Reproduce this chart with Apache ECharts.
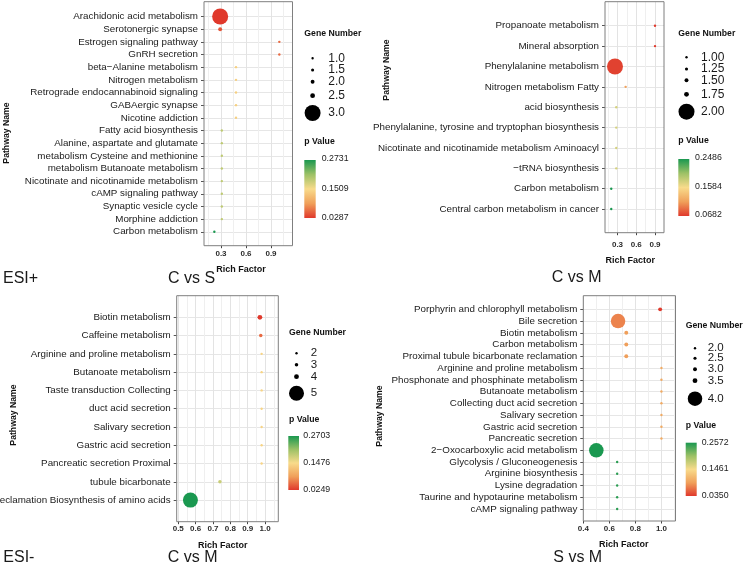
<!DOCTYPE html>
<html><head><meta charset="utf-8">
<script src="https://cdn.jsdelivr.net/npm/echarts@6/dist/echarts.min.js"></script>
<style>html,body{margin:0;padding:0;background:#fff}#c{width:750px;height:569px}</style>
</head><body><div id="c"></div><script>
// ---------- DATA ----------
// Panel A : ESI+  C vs S
const aPathways = ['Arachidonic acid metabolism','Serotonergic synapse','Estrogen signaling pathway','GnRH secretion','beta\u2212Alanine metabolism','Nitrogen metabolism','Retrograde endocannabinoid signaling','GABAergic synapse','Nicotine addiction','Fatty acid biosynthesis','Alanine, aspartate and glutamate','metabolism Cysteine and methionine','metabolism Butanoate metabolism','Nicotinate and nicotinamide metabolism','cAMP signaling pathway','Synaptic vesicle cycle','Morphine addiction','Carbon metabolism'];
const aRich = [0.29,0.29,1.0,1.0,0.48,0.48,0.48,0.48,0.48,0.31,0.31,0.31,0.31,0.31,0.31,0.31,0.31,0.22];
const aGenes = [3,2,1,1,1,1,1,1,1,1,1,1,1,1,1,1,1,1];
const aP = [0.0287,0.046,0.058,0.058,0.139,0.139,0.139,0.139,0.139,0.19,0.19,0.19,0.19,0.19,0.19,0.19,0.19,0.2731];
const aXTicks = ['0.3','0.6','0.9'];
const aSizeLabels = ['1.0','1.5','2.0','2.5','3.0'];
const aPTicks = ['0.2731','0.1509','0.0287'];

// Panel B : ESI+  C vs M
const bPathways = ['Propanoate metabolism','Mineral absorption','Phenylalanine metabolism','Nitrogen metabolism Fatty','acid biosynthesis','Phenylalanine, tyrosine and tryptophan biosynthesis','Nicotinate and nicotinamide metabolism Aminoacyl','\u2212tRNA biosynthesis','Carbon metabolism','Central carbon metabolism in cancer'];
const bRich = [0.9,0.9,0.26,0.43,0.28,0.28,0.28,0.28,0.2,0.2];
const bGenes = [1,1,2,1,1,1,1,1,1,1];
const bP = [0.0682,0.0682,0.072,0.115,0.176,0.176,0.176,0.176,0.2486,0.2486];
const bXTicks = ['0.3','0.6','0.9'];
const bSizeLabels = ['1.00','1.25','1.50','1.75','2.00'];
const bPTicks = ['0.2486','0.1584','0.0682'];

// Panel C : ESI-  C vs M
const cPathways = ['Biotin metabolism','Caffeine metabolism','Arginine and proline metabolism','Butanoate metabolism','Taste transduction Collecting','duct acid secretion','Salivary secretion','Gastric acid secretion','Pancreatic secretion Proximal','tubule bicarbonate','reclamation Biosynthesis of amino acids'];
const cRich = [0.97,0.975,0.98,0.98,0.98,0.98,0.98,0.98,0.98,0.74,0.57];
const cGenes = [4,3,2,2,2,2,2,2,2,3,5];
const cP = [0.0249,0.054,0.14,0.14,0.14,0.14,0.14,0.14,0.14,0.18,0.2703];
const cXTicks = ['0.5','0.6','0.7','0.8','0.9','1.0'];
const cSizeLabels = ['2','3','4','5'];
const cPTicks = ['0.2703','0.1476','0.0249'];

// Panel D : ESI-  S vs M
const dPathways = ['Porphyrin and chlorophyll metabolism','Bile secretion','Biotin metabolism','Carbon metabolism','Proximal tubule bicarbonate reclamation','Arginine and proline metabolism','Phosphonate and phosphinate metabolism','Butanoate metabolism','Collecting duct acid secretion','Salivary secretion','Gastric acid secretion','Pancreatic secretion','2\u2212Oxocarboxylic acid metabolism','Glycolysis / Gluconeogenesis','Arginine biosynthesis','Lysine degradation','Taurine and hypotaurine metabolism','cAMP signaling pathway'];
const dRich = [0.99,0.667,0.73,0.73,0.73,1.0,1.0,1.0,1.0,1.0,1.0,1.0,0.5,0.66,0.66,0.66,0.66,0.66];
const dGenes = [3,4,3,3,3,2,2,2,2,2,2,2,4,2,2,2,2,2];
const dP = [0.035,0.075,0.09,0.09,0.09,0.1,0.1,0.1,0.1,0.1,0.1,0.1,0.2572,0.25,0.25,0.25,0.25,0.25];
const dXTicks = ['0.4','0.6','0.8','1.0'];
const dSizeLabels = ['2.0','2.5','3.0','3.5','4.0'];
const dPTicks = ['0.2572','0.1461','0.0350'];

const panelTitles = ['C vs S','C vs M','C vs M','S vs M'];
const modeLabels = ['ESI+','ESI-'];
const axisTitles = ['Pathway Name','Rich Factor','Gene Number','p Value'];

// ---------- STYLE / LAYOUT ----------
const FONT = '"Liberation Sans", Arial, Helvetica, sans-serif';
const colorStops = ['#E0392C','#F0A05A','#F8DB8B','#9DC166','#1A9850']; // low p -> high p

const panels = [
 {cats:aPathways, rich:aRich, genes:aGenes, p:aP, xt:aXTicks, sl:aSizeLabels, pt:aPTicks,
  grid:{left:204,top:1.7,width:88.5,height:244}, yPad:[1.17,1.1], x:[0.096,1.158], xi:0.3, lm:4,
  sizeLv:[1,1.5,2,2.5,3], sizePx:[2.4,3.1,3.9,4.8,16],
  yT:[7,133], xT:[241,270], lg:{tx:304.3, ty:33.3, dx:312.6, rows:[58.3,70,81.7,95.7,113], lx:328.3, ls:12, py:142, bar:[304.3,160,11.4,58], bx:321.7, by:[159,189,217.7]},
  title:[168,278.5]},
 {cats:bPathways, rich:bRich, genes:bGenes, p:bP, xt:bXTicks, sl:bSizeLabels, pt:bPTicks,
  grid:{left:605,top:1.7,width:59,height:231}, yPad:[1.18,1.16], x:[0.1,1.044], xi:0.3, lm:8.5,
  sizeLv:[1,1.25,1.5,1.75,2], sizePx:[2.4,3.1,3.9,4.8,16],
  yT:[386.7,70], xT:[630.3,261], lg:{tx:678.3, ty:33.3, dx:686.5, rows:[57.3,69,80.3,94.3,111.7], lx:701, ls:12, py:141, bar:[678.3,159,11,57], bx:695, by:[157.3,186.7,215]},
  title:[551.7,278]},
 {cats:cPathways, rich:cRich, genes:cGenes, p:cP, xt:cXTicks, sl:cSizeLabels, pt:cPTicks,
  grid:{left:176.7,top:295.7,width:101.6,height:226}, yPad:[1.18,1.18], x:[0.491,1.076], xi:0.1, lm:3,
  sizeLv:[2,3,4,5], sizePx:[2.4,3.5,4.8,15],
  yT:[13.3,415], xT:[222.8,545.7], lg:{tx:289, ty:332.3, dx:296.5, rows:[353.3,364.7,376.7,393.3], lx:310.7, ls:11.5, py:419.3, bar:[288.3,436,10.7,54], bx:303.3, by:[436,462.7,490]},
  title:[167.7,557.5]},
 {cats:dPathways, rich:dRich, genes:dGenes, p:dP, xt:dXTicks, sl:dSizeLabels, pt:dPTicks,
  grid:{left:583.3,top:295.7,width:92.2,height:225.3}, yPad:[1.16,1.02], x:[0.4,1.108], xi:0.2, lm:4,
  sizeLv:[2,2.5,3,3.5,4], sizePx:[2.4,3.1,3.9,4.8,14.5],
  yT:[380,416], xT:[623.8,544.3], lg:{tx:685.7, ty:325.3, dx:695, rows:[348.3,358.3,369.3,380.7,398.7], lx:707.7, ls:11.5, py:426, bar:[685.7,442.7,11,53.3], bx:701.7, by:[442.3,469,496]},
  title:[553.3,558]}
];
const modePos = [[3,278.5],[3.3,557.5]];

function sizeOf(pn, v){
  const L = pn.sizeLv, P = pn.sizePx;
  if (v <= L[0]) return P[0];
  for (let i=1;i<L.length;i++){ if (v <= L[i]) { const t=(v-L[i-1])/(L[i]-L[i-1]); return P[i-1]+t*(P[i]-P[i-1]); } }
  return P[P.length-1];
}

const grids=[], xAxes=[], yAxes=[], series=[], visualMaps=[], graphics=[];
panels.forEach((pn,k)=>{
  const n = pn.cats.length;
  const idx = pn.cats.map((_,i)=>i);
  const xVals = pn.xt.map(Number);
  grids.push(Object.assign({show:false, containLabel:false, outerBoundsMode:'none'}, pn.grid));
  xAxes.push({type:'value', gridIndex:k, position:'bottom', min:pn.x[0], max:pn.x[1], minInterval:pn.xi, maxInterval:pn.xi,
    axisLine:{show:false, onZero:false},
    axisTick:{show:true, length:2.5, customValues:xVals, lineStyle:{color:'#444'}},
    axisLabel:{customValues:xVals, margin:pn.lm, fontSize:8, fontWeight:'bold', color:'#2b2b2b', fontFamily:FONT,
      formatter:v=>{const i=xVals.findIndex(t=>Math.abs(t-v)<1e-9); return i>=0?pn.xt[i]:'';}},
    splitLine:{show:true, lineStyle:{color:'#E3E3E3', width:1}},
    minorTick:{show:false, splitNumber:2},
    minorSplitLine:{show:true, lineStyle:{color:'#EFEFEF', width:1}}});
  yAxes.push({type:'value', gridIndex:k, position:'left', inverse:true, min:-pn.yPad[0], max:n-1+pn.yPad[1], minInterval:1, maxInterval:1,
    axisLine:{show:false, onZero:false},
    axisTick:{show:true, length:3, customValues:idx, lineStyle:{color:'#555'}},
    axisLabel:{customValues:idx, margin:6, fontSize:9.8, color:'#1a1a1a', fontFamily:FONT,
      formatter:v=>pn.cats[Math.round(v)]||''},
    splitLine:{show:true, lineStyle:{color:'#E6E6E6', width:1}}});
  series.push({type:'scatter', xAxisIndex:k, yAxisIndex:k, silent:true, animation:false,
    data: pn.cats.map((c,i)=>[pn.rich[i], i, pn.p[i], pn.genes[i]]),
    symbol:'circle', symbolSize: v=>sizeOf(pn, v[3]), itemStyle:{opacity:1}});
  const pNums = pn.pt.map(Number);
  visualMaps.push({type:'continuous', show:false, seriesIndex:k, dimension:2,
    min:Math.min(...pNums), max:Math.max(...pNums), inRange:{color:colorStops}});
  // border
  graphics.push({type:'rect', z:50, silent:true, shape:{x:pn.grid.left, y:pn.grid.top, width:pn.grid.width, height:pn.grid.height},
    style:{fill:null, stroke:'#7f7f7f', lineWidth:1}});
  // axis titles
  graphics.push({type:'text', z:50, x:pn.yT[0], y:pn.yT[1], rotation:Math.PI/2,
    style:{text:axisTitles[0], x:0, y:0, align:'center', verticalAlign:'middle', fill:'#111', font:'bold 8.7px '+FONT}});
  graphics.push({type:'text', z:50, style:{text:axisTitles[1], x:pn.xT[0], y:pn.xT[1], align:'center', verticalAlign:'middle', fill:'#111', font:'bold 9px '+FONT}});
  // size legend
  const lg = pn.lg;
  graphics.push({type:'text', z:50, style:{text:axisTitles[2], x:lg.tx, y:lg.ty, align:'left', verticalAlign:'middle', fill:'#111', font:'bold 8.7px '+FONT}});
  pn.sl.forEach((s,i)=>{
    const d = sizeOf(pn, Number(s));
    graphics.push({type:'circle', z:50, shape:{cx:lg.dx, cy:lg.rows[i], r:d/2}, style:{fill:'#000'}});
    graphics.push({type:'text', z:50, style:{text:s, x:lg.lx, y:lg.rows[i], align:'left', verticalAlign:'middle', fill:'#1a1a1a', font:lg.ls+'px '+FONT}});
  });
  // colour bar
  graphics.push({type:'text', z:50, style:{text:axisTitles[3], x:lg.tx, y:lg.py, align:'left', verticalAlign:'middle', fill:'#111', font:'bold 8.7px '+FONT}});
  graphics.push({type:'rect', z:50, shape:{x:lg.bar[0], y:lg.bar[1], width:lg.bar[2], height:lg.bar[3]},
    style:{fill:new echarts.graphic.LinearGradient(0,1,0,0, colorStops.map((c,i)=>({offset:i/(colorStops.length-1), color:c})))}});
  pn.pt.forEach((s,i)=>{
    graphics.push({type:'text', z:50, style:{text:s, x:lg.bx, y:lg.by[i], align:'left', verticalAlign:'middle', fill:'#1a1a1a', font:'8.8px '+FONT}});
  });
  // panel title
  graphics.push({type:'text', z:50, style:{text:panelTitles[k], x:pn.title[0], y:pn.title[1], align:'left', verticalAlign:'middle', fill:'#1a1a1a', font:'16px '+FONT}});
});
modeLabels.forEach((m,i)=>{
  graphics.push({type:'text', z:50, style:{text:m, x:modePos[i][0], y:modePos[i][1], align:'left', verticalAlign:'middle', fill:'#1a1a1a', font:'16px '+FONT}});
});

const chart = echarts.init(document.getElementById('c'), null, {renderer:'canvas'});
chart.setOption({
  animation:false,
  backgroundColor:'#fff',
  textStyle:{fontFamily:FONT},
  grid:grids, xAxis:xAxes, yAxis:yAxes, series:series, visualMap:visualMaps,
  graphic:{elements:graphics}
});
</script></body></html>
